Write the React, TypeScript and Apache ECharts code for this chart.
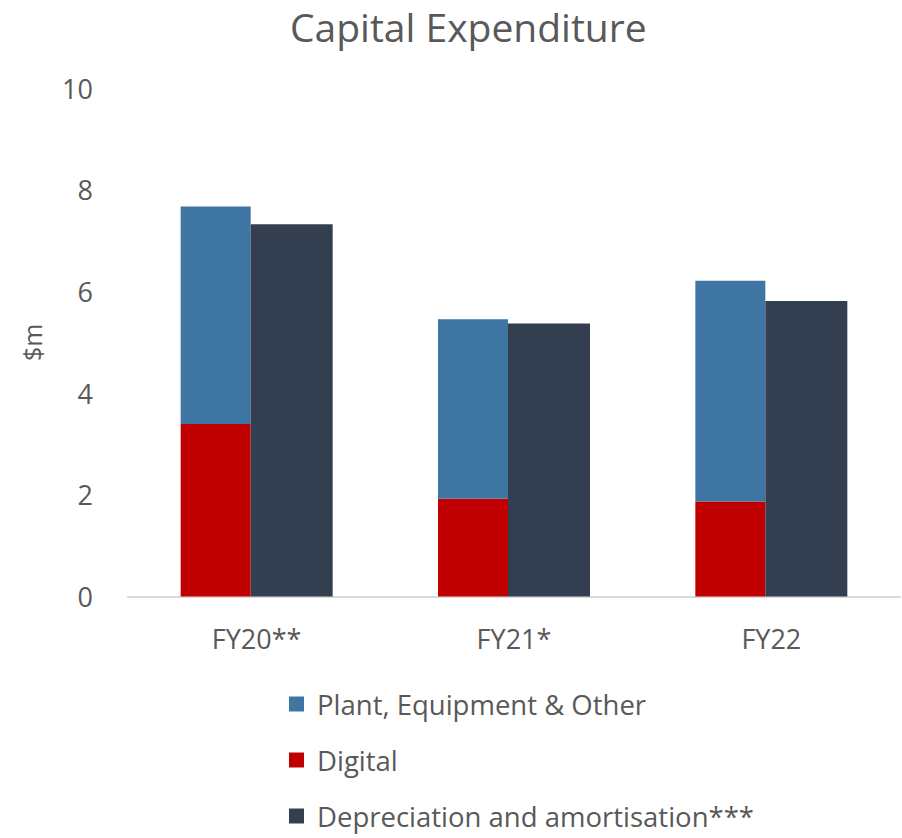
import React, { useEffect, useRef } from "react";
import * as echarts from "echarts";

const categories = ["FY20**", "FY21*", "FY22"];
const digital = [3.39, 1.92, 1.87];
const plant = [4.28, 3.53, 4.34];
const depreciation = [7.32, 5.37, 5.81];
const yTicks = { min: 0, max: 10, interval: 2 };

const FONT = "'Open Sans', 'Noto Sans', sans-serif";
const GREY = "#595959";

export default function App() {
  const ref = useRef<HTMLDivElement>(null);
  useEffect(() => {
    document.body.style.margin = "0";
    if (!ref.current) return;
    const chart = echarts.init(ref.current, undefined, { renderer: "svg" });
    chart.setOption({
      animation: false,
      title: {
        text: "Capital Expenditure",
        left: 290,
        top: 7,
        padding: 0,
        textStyle: { fontFamily: FONT, fontSize: 39, fontWeight: "normal", color: GREY },
      },
      legend: {
        orient: "vertical",
        left: 289,
        top: 690,
        height: 148,
        padding: 0,
        itemWidth: 15,
        itemHeight: 15,
        itemGap: 28,
        icon: "rect",
        data: ["Plant, Equipment & Other", "Digital", "Depreciation and amortisation***"],
        textStyle: { fontFamily: FONT, fontSize: 27.5, color: GREY, lineHeight: 28, padding: [0, 0, 0, 8] },
      },
      grid: { left: 128, right: 2, top: 88, bottom: 241.5, containLabel: false },
      xAxis: {
        type: "category",
        data: categories,
        axisLine: { lineStyle: { color: "#d9d9d9", width: 2 } },
        axisTick: { show: false },
        axisLabel: { fontFamily: FONT, fontSize: 27, color: GREY, margin: 28 },
      },
      yAxis: {
        type: "value",
        min: yTicks.min,
        max: yTicks.max,
        interval: yTicks.interval,
        splitLine: { show: false },
        axisLine: { show: false },
        axisTick: { show: false },
        axisLabel: { fontFamily: FONT, fontSize: 27, color: GREY, margin: 35 },
        name: "$m",
        nameLocation: "middle",
        nameRotate: 90,
        nameGap: 84,
        nameTextStyle: { fontFamily: FONT, fontSize: 25, color: GREY },
      },
      series: [
        {
          name: "Digital",
          type: "bar",
          stack: "capex",
          data: digital,
          barWidth: 70,
          barGap: "0%",
          itemStyle: { color: "#C00000" },
        },
        {
          name: "Plant, Equipment & Other",
          type: "bar",
          stack: "capex",
          data: plant,
          barWidth: 70,
          barGap: "0%",
          itemStyle: { color: "#3F75A3" },
        },
        {
          name: "Depreciation and amortisation***",
          type: "bar",
          data: depreciation,
          barWidth: 82,
          barGap: "0%",
          itemStyle: { color: "#333F50" },
        },
      ],
    });
    return () => chart.dispose();
  }, []);
  return <div ref={ref} style={{ width: 902, height: 838 }} />;
}
